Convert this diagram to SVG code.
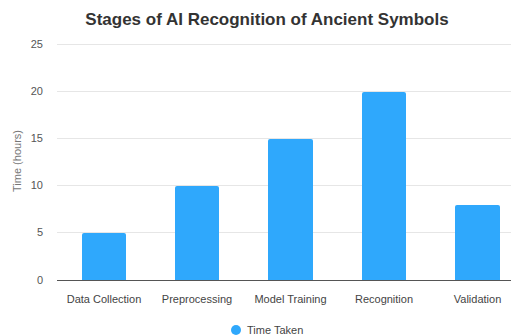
<svg xmlns="http://www.w3.org/2000/svg" width="511" height="335" viewBox="0 0 511 335">
<style>
.t{font-family:"Liberation Sans",Arial,sans-serif}
.grid{stroke:#e6e6e6;stroke-width:1}
.tick{font-size:11px;fill:#555;text-anchor:end}
.cat{font-size:11px;fill:#444;text-anchor:middle}
.bar{fill:#2fa8fc}
</style>
<rect width="511" height="335" fill="#fff"/>
<text class="t" x="267" y="25" font-size="17" font-weight="bold" fill="#333" text-anchor="middle">Stages of AI Recognition of Ancient Symbols</text>
<g id="grid">
<line class="grid" x1="57" y1="44.5" x2="511" y2="44.5"/>
<line class="grid" x1="57" y1="91.5" x2="511" y2="91.5"/>
<line class="grid" x1="57" y1="138.5" x2="511" y2="138.5"/>
<line class="grid" x1="57" y1="185.5" x2="511" y2="185.5"/>
<line class="grid" x1="57" y1="232.5" x2="511" y2="232.5"/>
</g>
<g id="yticks" class="t">
<text class="tick" x="43" y="48">25</text>
<text class="tick" x="43" y="95">20</text>
<text class="tick" x="43" y="142">15</text>
<text class="tick" x="43" y="189">10</text>
<text class="tick" x="43" y="236">5</text>
<text class="tick" x="43" y="284">0</text>
</g>
<text class="t" transform="translate(21,161) rotate(-90)" font-size="11" fill="#777" text-anchor="middle">Time (hours)</text>
<g id="bar-data-collection"><path class="bar" d="M82,280 V235 Q82,233 84,233 H124 Q126,233 126,235 V280 Z"/></g>
<g id="bar-preprocessing"><path class="bar" d="M175,280 V188 Q175,186 177,186 H217 Q219,186 219,188 V280 Z"/></g>
<g id="bar-model-training"><path class="bar" d="M268,280 V141 Q268,139 270,139 H311 Q313,139 313,141 V280 Z"/></g>
<g id="bar-recognition"><path class="bar" d="M362,280 V94 Q362,92 364,92 H404 Q406,92 406,94 V280 Z"/></g>
<g id="bar-validation"><path class="bar" d="M455,280 V207 Q455,205 457,205 H498 Q500,205 500,207 V280 Z"/></g>
<line x1="57" y1="280.5" x2="511" y2="280.5" stroke="#555" stroke-width="1.2"/>
<g id="xlabels" class="t">
<text class="cat" x="104" y="303">Data Collection</text>
<text class="cat" x="197" y="303">Preprocessing</text>
<text class="cat" x="290.5" y="303">Model Training</text>
<text class="cat" x="384" y="303">Recognition</text>
<text class="cat" x="477.5" y="303">Validation</text>
</g>
<g id="legend">
<circle cx="236" cy="330" r="5" class="bar"/>
<text class="t" x="247" y="334" font-size="11" fill="#444">Time Taken</text>
</g>
</svg>
